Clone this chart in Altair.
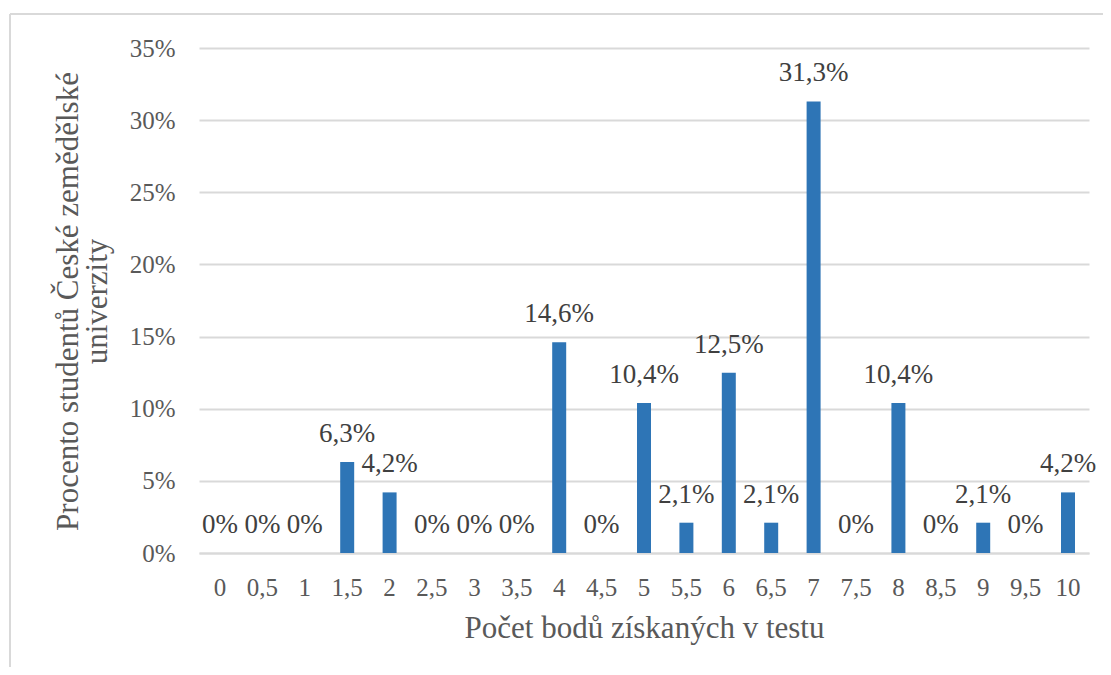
import altair as alt
import pandas as pd

categories = ["0", "0,5", "1", "1,5", "2", "2,5", "3", "3,5", "4", "4,5", "5",
              "5,5", "6", "6,5", "7", "7,5", "8", "8,5", "9", "9,5", "10"]
values = [0, 0, 0, 6.3, 4.2, 0, 0, 0, 14.6, 0, 10.4, 2.1, 12.5, 2.1, 31.3, 0,
          10.4, 0, 2.1, 0, 4.2]
y_ticks = [0, 5, 10, 15, 20, 25, 30, 35]


def fmt(v):
    if v == 0:
        return "0%"
    return f"{v:.1f}".replace(".", ",") + "%"


df = pd.DataFrame({"cat": categories, "val": values,
                   "label": [fmt(v) for v in values]})

FONT = "Liberation Serif"
W, H = 890, 505

x_enc = alt.X("cat:N", sort=categories,
              scale=alt.Scale(paddingInner=0.67, paddingOuter=0.33),
              axis=alt.Axis(title="Počet bodů získaných v testu", labelAngle=0,
                            ticks=False, tickSize=0, domain=True, domainColor="#d9d9d9",
                            domainWidth=2, labelBaseline="alphabetic", labelPadding=42,
                            labelFontSize=25, titleFontSize=31,
                            labelColor="#595959", titleColor="#595959",
                            labelFont=FONT, titleFont=FONT, titleFontWeight="normal",
                            titleBaseline="alphabetic", titleY=84))
y_scale = alt.Scale(domain=[0, 35], nice=False)

bars = alt.Chart(df).mark_bar(color="#2E75B6").encode(
    x=x_enc,
    y=alt.Y("val:Q", scale=y_scale,
            axis=alt.Axis(title=["Procento studentů České zemědělské", "univerzity"],
                          values=y_ticks, labelExpr="datum.value + '%'",
                          ticks=False, tickSize=0, domain=False, grid=True,
                          gridColor="#d9d9d9", gridWidth=2,
                          labelPadding=24, labelFontSize=25, titleFontSize=31,
                          labelColor="#595959", titleColor="#595959",
                          labelFont=FONT, titleFont=FONT, titleFontWeight="normal",
                          titleX=-122, titleY=253, titleAngle=-90,
                          titleBaseline="alphabetic", titleAlign="center",
                          titleLineHeight=29)),
)

labels = alt.Chart(df).mark_text(font=FONT, fontSize=27, color="#404040",
                                 baseline="alphabetic", dy=-20).encode(
    x=alt.X("cat:N", sort=categories),
    y=alt.Y("val:Q", scale=y_scale),
    text="label:N",
)

border_top = alt.Chart(df).mark_rule(color="#d9d9d9", strokeWidth=2).encode(
    x=alt.value(-189), x2=alt.value(W + 40), y=alt.value(-34))
border_left = alt.Chart(df).mark_rule(color="#d9d9d9", strokeWidth=2).encode(
    x=alt.value(-189), y=alt.value(-34), y2=alt.value(H + 150))

chart = alt.layer(border_top, border_left, bars, labels).properties(
    width=W, height=H,
    autosize=alt.AutoSizeParams(type="none"),
    padding={"left": 191, "top": 40, "right": 14, "bottom": 114},
).configure_view(stroke=None)

chart.save("out.html", embed_options={"renderer": "svg", "actions": False})
